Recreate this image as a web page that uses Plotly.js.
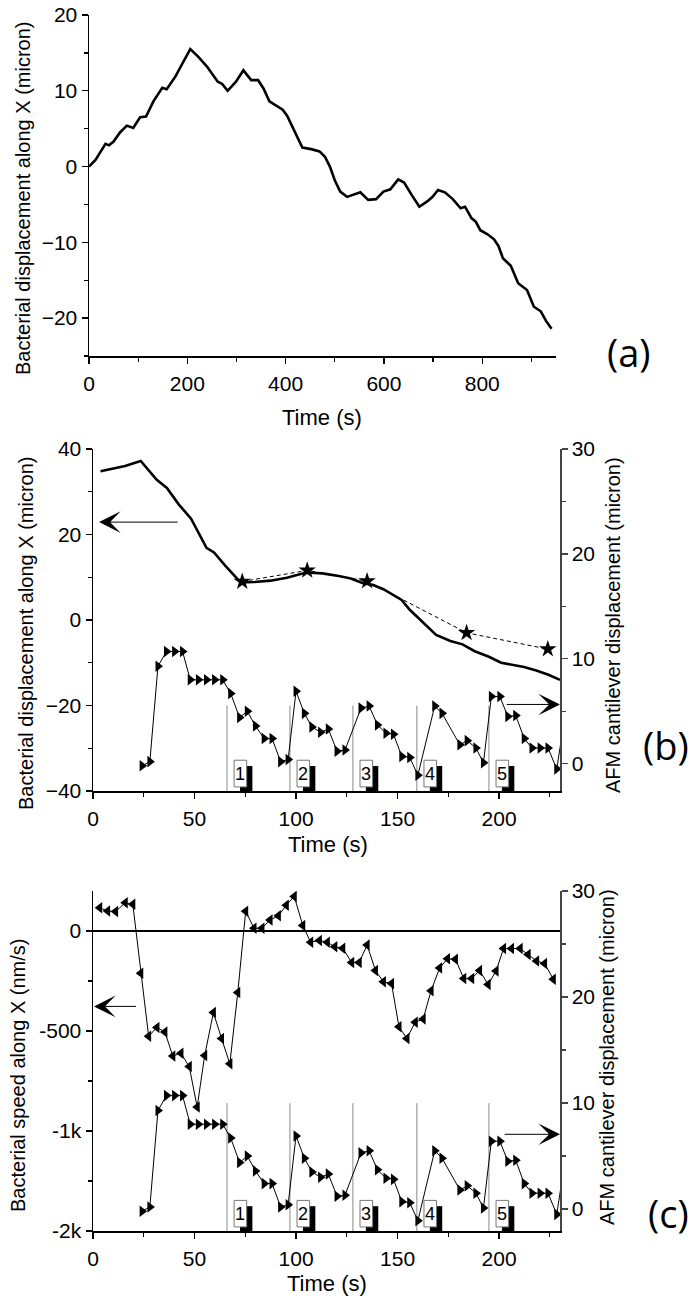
<!DOCTYPE html>
<html>
<head>
<meta charset="utf-8">
<script src="https://cdn.plot.ly/plotly-3.0.1.min.js"></script>
<style>html,body{margin:0;padding:0;background:#fff;}#chart{width:690px;height:1306px;}</style>
</head>
<body>
<div id="chart"></div>
<script>
// ---------- Panel (a): bacterial displacement vs time ----------
const aTime = [0,13.6,33.5,40.7,50,63,77,90,104,116,131,149,158,176,190,206,222,240,262,271,282,299,314,330,344,355,367,380,394,403,412,424,434,452,469,480,490,500,511,525,538,552,568,584,599,613,629,641,656,672,688,699,710,724,740,756,765,778,787,796,810,824,833,842,858,873,891,905,919,930,941];
const aDisp = [0,0.9,3.0,2.8,3.3,4.5,5.4,5.1,6.5,6.6,8.6,10.4,10.2,11.9,13.6,15.5,14.5,13.2,11.2,10.9,10.0,11.2,12.7,11.4,11.4,10.3,8.6,8.1,7.5,6.7,5.5,3.7,2.5,2.3,2.0,1.3,0.0,-1.8,-3.3,-4.0,-3.7,-3.4,-4.4,-4.3,-3.3,-3.0,-1.7,-2.1,-3.7,-5.3,-4.6,-4.0,-3.1,-3.4,-4.3,-5.5,-5.3,-6.8,-7.3,-8.4,-8.9,-9.6,-10.5,-12.1,-13.1,-15.4,-16.3,-18.5,-19.1,-20.4,-21.4];

// ---------- Panel (b): bacterial displacement, stars, cantilever ----------
const bTime = [3.7,8.8,15.8,23.5,31.4,36.4,42.3,48.3,52.3,55.9,59.6,65,72.7,79.5,87.4,95.5,105,113,121,127,133,138,143,148.7,152,156,162,169,176,182,188,195,201,206.3,212.3,218.3,224.3,230];
const bDisp = [34.8,35.3,36.0,37.2,32.8,30.9,27.0,23.7,20.0,16.9,15.8,12.8,8.8,8.9,9.2,9.9,11.1,10.9,10.3,9.7,8.6,8.2,7.2,5.6,4.7,2.4,-0.4,-3.5,-4.9,-5.7,-7.3,-8.6,-10.0,-10.4,-11.0,-11.8,-12.8,-14.0];
const starTime = [73.5,105.5,135,184,224];
const starDisp = [9.0,11.6,9.1,-3.0,-6.8];

// AFM cantilever displacement (shown in (b) and (c))
const cantTime = [24.2,28,32,36.2,40.2,44.1,47.9,51.9,55.9,59.9,63.9,67.8,72.2,76,80,84.3,88.2,92.4,96.1,100,104.1,107.8,112.1,115.9,120.2,124.1,132,136,140.1,144.3,148,152.1,156,160,168.3,171.9,180.7,184.3,188.6,192.3,196.2,200.4,204.3,208.2,212.4,216.2,220.2,224.1,228.4,232];
const cantDisp = [-0.2,0.2,9.3,10.7,10.7,10.7,8.0,8.0,8.0,8.0,8.0,6.7,4.4,5.0,3.6,2.4,2.4,0.2,0.4,6.9,4.8,3.5,3.0,3.3,1.2,1.3,5.3,5.5,3.7,2.9,2.8,0.7,0.6,-1.1,5.5,4.8,1.8,2.2,1.5,0.1,6.4,6.4,4.5,4.6,2.4,1.5,1.5,1.5,-0.5,4.0];

// ---------- Panel (c): bacterial speed ----------
const speedTime = [3.3,7.2,11.1,15.9,19.6,23.5,27.4,31.5,35.4,39.3,43.3,47.4,51.3,55,59.3,63.3,67.4,71.3,75.2,79.3,83.2,87.2,91.3,95.2,99.1,103.3,107.2,111.5,115.4,119.1,123,127.4,131.1,135,139.1,143,147,150.7,154.6,158.7,162.6,166.5,170.7,174.6,178.5,182.6,186.5,190.4,194.6,198.5,202.2,206.1,210.4,214.3,218.5,222.4,226.7];
const speedVal = [116,100,97,141,134,-211,-526,-482,-505,-625,-611,-678,-880,-623,-408,-537,-664,-308,99,14,14,55,76,129,173,28,-56,-47,-56,-79,-86,-157,-157,-70,-197,-254,-262,-479,-537,-456,-440,-299,-185,-139,-141,-238,-238,-197,-268,-200,-88,-88,-88,-118,-150,-162,-241];

// Events (numbered markers) and tick labels
const eventTimes = [66,97,128,159.5,195];
const eventLabels = ['1','2','3','4','5'];
const speedTickVals = [0,-500,-1000,-1500];
const speedTickText = ['0','-500','-1k','-2k'];

const FONT = 'Liberation Sans, Arial, Helvetica, sans-serif';
const W = 690, H = 1306;
const px = v => v / W;
const py = v => 1 - v / H;

const traces = [
  {x: aTime, y: aDisp, xaxis: 'x', yaxis: 'y', mode: 'lines',
   line: {color: '#000', width: 2.6}, hoverinfo: 'skip'},
  {x: bTime, y: bDisp, xaxis: 'x2', yaxis: 'y2', mode: 'lines',
   line: {color: '#000', width: 2.6}},
  {x: starTime, y: starDisp, xaxis: 'x2', yaxis: 'y2', mode: 'lines+markers',
   line: {color: '#000', width: 1, dash: '4px,3px'},
   marker: {symbol: 'star', size: 13, color: '#000'}},
  {x: cantTime, y: cantDisp, xaxis: 'x2', yaxis: 'y3', mode: 'lines+markers',
   line: {color: '#000', width: 1},
   marker: {symbol: 'triangle-right', size: 10, color: '#000'}},
  {x: speedTime, y: speedVal, xaxis: 'x3', yaxis: 'y4', mode: 'lines+markers',
   line: {color: '#000', width: 1},
   marker: {symbol: 'triangle-left', size: 10, color: '#000'}},
  {x: cantTime, y: cantDisp, xaxis: 'x3', yaxis: 'y5', mode: 'lines+markers',
   line: {color: '#000', width: 1},
   marker: {symbol: 'triangle-right', size: 10, color: '#000'}}
];

const tickFont = {family: FONT, size: 21, color: '#000'};
function baseAxis(extra) {
  return Object.assign({
    showline: true, linecolor: '#000', linewidth: 1.5,
    ticks: 'outside', ticklen: 6, tickwidth: 1.3, tickcolor: '#000',
    showgrid: false, zeroline: false, tickfont: tickFont,
    fixedrange: true
  }, extra);
}

const xdomA = [px(89), px(556)];
const xdomBC = [px(93), px(560)];
const ydomA = [py(356), py(15)];
const ydomB = [py(791), py(449)];
const ydomC = [py(1231), py(891)];

const layout = {
  width: W, height: H,
  margin: {l: 0, r: 0, t: 0, b: 0},
  paper_bgcolor: '#fff', plot_bgcolor: 'rgba(0,0,0,0)',
  showlegend: false,
  font: {family: FONT, color: '#000'},
  xaxis: baseAxis({domain: xdomA, anchor: 'y', range: [0, 950], dtick: 200, tick0: 0,
    minor: {dtick: 100, ticks: 'outside', ticklen: 4, tickcolor: '#000'}, ticklabelstandoff: 2}),
  yaxis: baseAxis({domain: ydomA, anchor: 'x', range: [-25, 20], dtick: 10, tick0: 0,
    minor: {dtick: 5, ticks: 'outside', ticklen: 4, tickcolor: '#000'}}),
  xaxis2: baseAxis({domain: xdomBC, anchor: 'y2', range: [0, 230], dtick: 50, tick0: 0,
    minor: {dtick: 25, ticks: 'outside', ticklen: 4, tickcolor: '#000'}, ticklabelstandoff: 2}),
  yaxis2: baseAxis({domain: ydomB, anchor: 'x2', range: [-40, 40], dtick: 20, tick0: 0,
    minor: {dtick: 10, ticks: 'outside', ticklen: 4, tickcolor: '#000'}}),
  yaxis3: baseAxis({domain: ydomB, anchor: 'x2', overlaying: 'y2', side: 'right',
    range: [-2.6, 30], dtick: 10, tick0: 0, linecolor: '#444', tickcolor: '#444',
    minor: {dtick: 5, ticks: 'outside', ticklen: 4, tickcolor: '#444'}}),
  xaxis3: baseAxis({domain: xdomBC, anchor: 'y4', range: [0, 230], dtick: 50, tick0: 0,
    minor: {dtick: 25, ticks: 'outside', ticklen: 4, tickcolor: '#000'}, ticklabelstandoff: 2}),
  yaxis4: baseAxis({domain: ydomC, anchor: 'x3', range: [-1500, 200],
    tickmode: 'array', tickvals: speedTickVals, ticktext: speedTickText,
    zeroline: true, zerolinecolor: '#000', zerolinewidth: 1.5,
    minor: {tickmode: 'array', tickvals: [-250, -750, -1250], ticks: 'outside', ticklen: 4, tickcolor: '#000'}}),
  yaxis5: baseAxis({domain: ydomC, anchor: 'x3', overlaying: 'y4', side: 'right',
    range: [-2.07, 30], dtick: 10, tick0: 0, linecolor: '#444', tickcolor: '#444',
    minor: {dtick: 5, ticks: 'outside', ticklen: 4, tickcolor: '#444'}}),
  shapes: [],
  annotations: []
};

// Text labels (titles) as annotations at fixed paper positions
function txt(text, x, y, size, angle, family) {
  layout.annotations.push({text: text, xref: 'paper', yref: 'paper', x: x, y: y,
    xanchor: 'center', yanchor: 'middle', showarrow: false, textangle: angle || 0,
    font: {family: family || FONT, size: size, color: '#000'}});
}
txt('Bacterial displacement along X (micron)', px(23), py(198), 20, -90);
txt('Time (s)', px(322), py(417), 22);
txt('(a)', px(629), py(352), 38, 0, 'Open Sans, Liberation Sans, sans-serif');

txt('Bacterial displacement along X (micron)', px(26), py(633), 20, -90);
txt('AFM cantilever displacement (micron)', px(613), py(625), 20, -90);
txt('Time (s)', px(328), py(844), 22);
txt('(b)', px(666), py(745), 38, 0, 'Open Sans, Liberation Sans, sans-serif');

txt('Bacterial speed along X (nm/s)', px(18), py(1076), 20, -90);
txt('AFM cantilever displacement (micron)', px(607), py(1057), 20, -90);
txt('Time (s)', px(327), py(1283), 22);
txt('(c)', px(668), py(1213), 38, 0, 'Open Sans, Liberation Sans, sans-serif');

// Arrows indicating which axis each curve belongs to
function arrow(xr, yr, tipX, tailX, yv) {
  layout.annotations.push({text: '', xref: xr, yref: yr, axref: xr, ayref: yr,
    x: tipX, y: yv, ax: tailX, ay: yv, showarrow: true,
    arrowhead: 3, arrowsize: 3.6, arrowwidth: 1, arrowcolor: '#000', standoff: 0, startstandoff: 0});
}
arrow('x2', 'y2', 3, 42.4, 22.9);
arrow('x2', 'y3', 230, 203, 5.65);
arrow('x3', 'y4', 0.5, 21.9, -377);
arrow('x3', 'y5', 230, 202, 7.05);

// Event markers: gray vertical lines + numbered boxes with black shadow
function events(xr, ydomRef, lineTop) {
  eventTimes.forEach((t, i) => {
    layout.shapes.push({type: 'line', layer: 'below', xref: xr, yref: ydomRef,
      x0: t, x1: t, y0: 0, y1: lineTop, line: {color: '#8a8a8a', width: 1}});
    layout.shapes.push({type: 'rect', xref: xr, yref: ydomRef,
      x0: t + 6.4, x1: t + 12.5, y0: 0, y1: 0.073, fillcolor: '#000', line: {width: 0}});
    layout.shapes.push({type: 'rect', xref: xr, yref: ydomRef,
      x0: t + 3.5, x1: t + 9.7, y0: 0.012, y1: 0.09, fillcolor: '#fff', line: {color: '#777', width: 1}});
    layout.annotations.push({text: eventLabels[i], xref: xr, yref: ydomRef,
      x: t + 6.6, y: 0.051, showarrow: false, xanchor: 'center', yanchor: 'middle',
      font: {family: FONT, size: 18, color: '#000'}});
  });
}
events('x2', 'y2 domain', 0.25);
events('x3', 'y4 domain', 0.376);

Plotly.newPlot('chart', traces, layout, {staticPlot: true, displayModeBar: false});
</script>
</body>
</html>
